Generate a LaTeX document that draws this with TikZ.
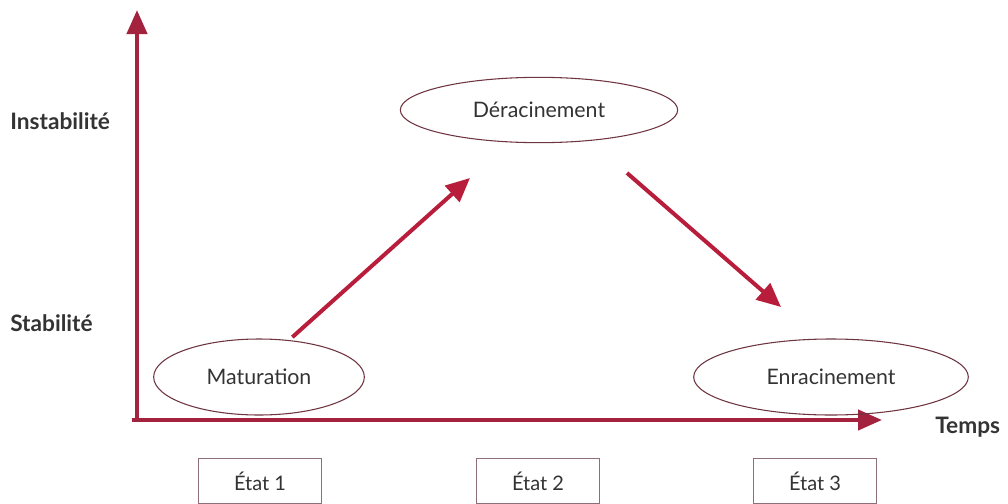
\documentclass[tikz,border=0pt]{standalone}
\usepackage{fontspec}
\setmainfont{Lato}
\usetikzlibrary{arrows.meta,shapes.geometric}
\definecolor{axisred}{HTML}{A3223E}
\definecolor{arrowred}{HTML}{B81E3C}
\definecolor{ringcol}{HTML}{6E3440}
\definecolor{boxcol}{HTML}{8E6E78}
\definecolor{txt}{HTML}{333333}
\tikzset{
  axis/.style={draw=axisred, line width=3.2pt, -{Triangle[length=18pt,width=15pt]}},
  flow/.style={draw=arrowred, line width=3pt, -{Triangle[length=18pt,width=16pt]}},
  phase/.style={draw=ringcol, line width=0.8pt, ellipse, font=\fontsize{16}{18}\selectfont, text=txt, inner sep=0pt},
  statebox/.style={draw=boxcol, line width=1pt, rectangle, minimum width=92pt, minimum height=34pt, font=\fontsize{15}{17}\selectfont, text=txt, inner sep=0pt},
  level/.style={font=\bfseries\fontsize{17}{19}\selectfont, text=txt, anchor=west, inner sep=0pt}
}
\begin{document}
\begin{tikzpicture}[x=0.75pt,y=-0.75pt]
\useasboundingbox (0,0) rectangle (1008,504);
% axes
\coordinate (origin) at (137,420);
\coordinate (ytop) at (137,10);
\coordinate (xend) at (882,420);
\draw[axis] (origin) -- (ytop);
\draw[axis] ([xshift=-4pt]origin) -- (xend);
% axis labels
\node[level] (instab) at (10,121) {Instabilité};
\node[level] (stab) at (10,323) {Stabilité};
\node[level] (temps) at (935,427) {Temps};
% phases
\node[phase, minimum width=158pt, minimum height=57pt] (mat) at (259,377) {Maturation};
\node[phase, minimum width=208pt, minimum height=49pt] (der) at (539,110) {Déracinement};
\node[phase, minimum width=206pt, minimum height=57pt] (enr) at (831,377) {Enracinement};
% transitions
\coordinate (up) at (470,178);
\coordinate (downstart) at (627,173);
\coordinate (down) at (781,307);
\draw[flow] (mat.north) ++(25pt,1pt) coordinate (upstart) -- (up);
\draw[flow] (downstart) -- (down);
% states
\node[statebox] (s1) at (260,481) {État 1};
\node[statebox] (s2) at (538,481) {État 2};
\node[statebox] (s3) at (815,481) {État 3};
\end{tikzpicture}
\end{document}
